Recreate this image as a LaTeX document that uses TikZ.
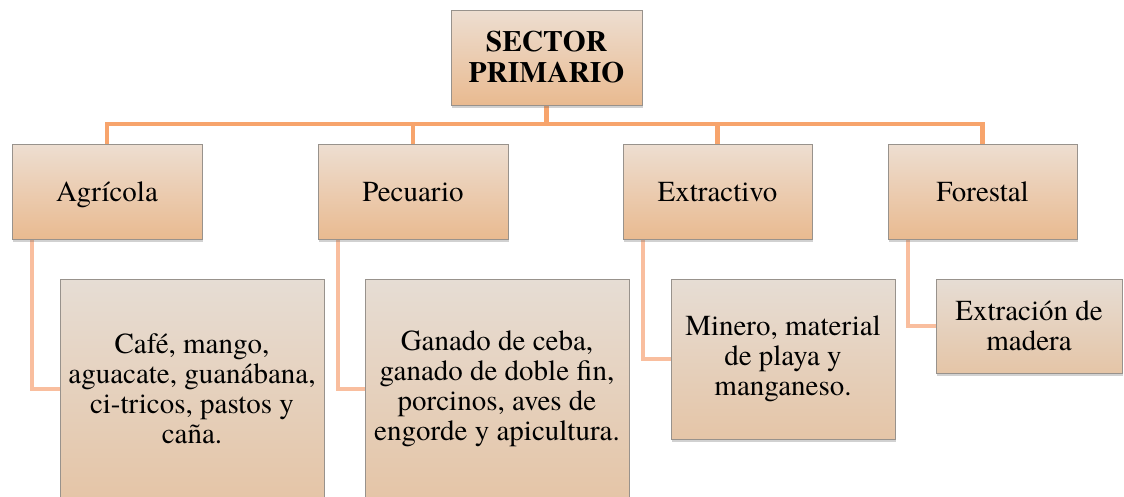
\documentclass[tikz,border=0pt]{standalone}
\usepackage{fontspec}
\setmainfont{TeX Gyre Termes}
\usepackage{tikz}
\usetikzlibrary{positioning,shadows,backgrounds}

\definecolor{busorange}{RGB}{247,164,108}
\definecolor{twigorange}{RGB}{249,190,158}
\definecolor{boxline}{RGB}{152,146,140}
\definecolor{topA}{RGB}{237,222,209}
\definecolor{botA}{RGB}{233,186,144}
\definecolor{topB}{RGB}{230,221,212}
\definecolor{botB}{RGB}{229,197,167}

\begin{document}
\begin{tikzpicture}[x=1pt,y=-1pt]
	\useasboundingbox (0,0) rectangle (1124,496);
	\clip (0,0) rectangle (1124,496);

	\tikzstyle{card}=[draw=boxline,line width=0.8pt,align=center,inner sep=2pt,
		drop shadow={shadow xshift=0.6pt,shadow yshift=-2.6pt,opacity=0.3,fill=black!60}]
	\tikzstyle{sectorbox}=[card,top color=topA,bottom color=botA,font=\bfseries\fontsize{29.5}{31}\selectfont]
	\tikzstyle{branch}=[card,top color=topA,bottom color=botA,minimum height=95pt,
		text height=19pt,text depth=0pt,font=\fontsize{29}{30}\selectfont]
	\tikzstyle{detail}=[card,top color=topB,bottom color=botB,font=\fontsize{29}{30}\selectfont]
	\tikzstyle{bus}=[draw=busorange,line width=4.5pt]
	\tikzstyle{twig}=[draw=twigorange,line width=4pt]

	%% Root
	\node[sectorbox,minimum width=191pt,minimum height=95pt] (sector) at (546.5,57.5) {SECTOR\\PRIMARIO};

	%% Branches
	\node[branch,minimum width=190pt] (agricola) at (107,191.5) {Agrícola};
	\node[branch,minimum width=190pt] (pecuario) at (413,191.5) {Pecuario};
	\node[branch,minimum width=189pt] (extractivo) at (717.5,191.5) {Extractivo};
	\node[branch,minimum width=189pt] (forestal) at (982.5,191.5) {Forestal};

	%% Details
	\node[detail,minimum width=264pt,minimum height=220pt] (agrdet) at (192,389)
		{Café, mango,\\aguacate, guanábana,\\ci-tricos, pastos y\\caña.};
	\node[detail,minimum width=264pt,minimum height=220pt] (pecdet) at (497,389)
		{Ganado de ceba,\\ganado de doble fin,\\porcinos, aves de\\engorde y apicultura.};
	\node[detail,minimum width=224pt,minimum height=160pt] (extdet) at (783,359)
		{Minero, material\\de playa y\\manganeso.};
	\node[detail,minimum width=186pt,minimum height=94pt] (fordet) at (1029,326)
		{Extración de\\madera};

	%% Connectors
	\begin{pgfonlayer}{background}
		\coordinate (busy) at (0,124);
		\path[bus] (sector.south) -- (sector.south |- busy);
		\path[bus] (agricola.north) |- (forestal.north |- busy) -- (forestal.north);
		\path[bus] (pecuario.north) -- (pecuario.north |- busy);
		\path[bus] (extractivo.north) -- (extractivo.north |- busy);
		\foreach \b/\d in {agricola/agrdet,pecuario/pecdet,extractivo/extdet,forestal/fordet}
			\path[twig] ([xshift=20pt]\b.south west) |- (\d.west);
	\end{pgfonlayer}
\end{tikzpicture}
\end{document}
